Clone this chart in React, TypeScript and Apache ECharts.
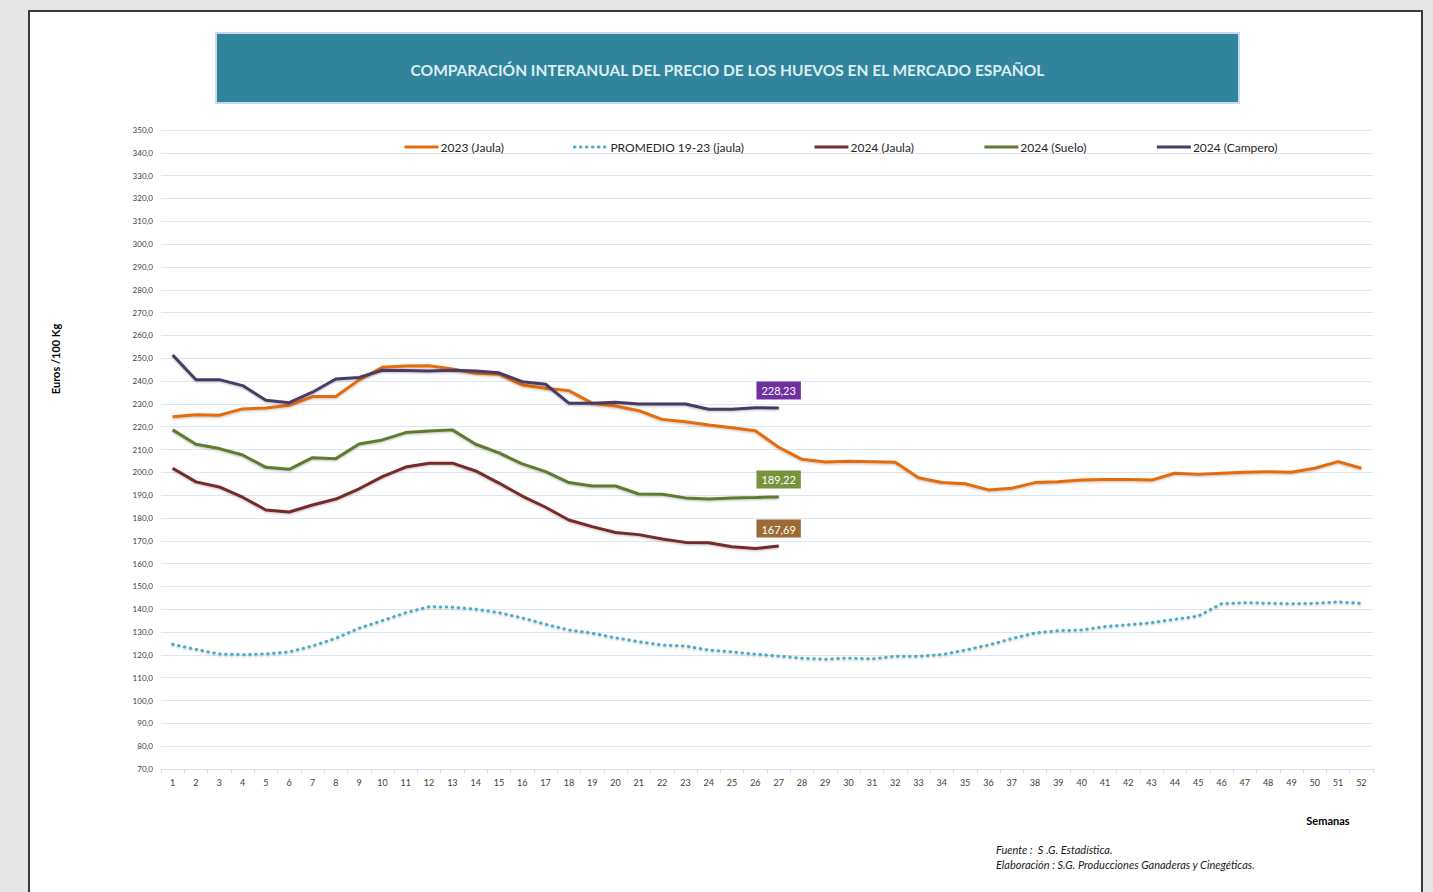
import React, { useEffect, useRef } from "react";
import * as echarts from "echarts";

const weeks = ["1","2","3","4","5","6","7","8","9","10","11","12","13","14","15","16","17","18","19","20","21","22","23","24","25","26","27","28","29","30","31","32","33","34","35","36","37","38","39","40","41","42","43","44","45","46","47","48","49","50","51","52"];

const jaula2023 = [224.4,225.2,225.0,227.8,228.2,229.4,233.2,233.2,240.5,246.0,246.6,246.7,245.3,243.4,243.0,238.3,236.8,235.8,230.3,229.1,227.0,223.2,222.2,220.7,219.5,218.2,211.0,205.7,204.5,204.8,204.6,204.4,197.6,195.5,195.0,192.3,193.0,195.5,195.9,196.6,196.9,196.9,196.6,199.6,199.1,199.6,200.0,200.3,200.0,201.8,204.7,201.8];

const promedio = [124.6,122.4,120.4,120.1,120.4,121.3,123.9,127.3,131.7,135.0,138.5,141.1,140.9,140.0,138.5,136.2,133.4,130.9,129.5,127.5,125.8,124.3,123.9,122.1,121.3,120.3,119.5,118.5,118.1,118.6,118.2,119.4,119.4,120.1,122.1,124.3,127.1,129.6,130.6,130.9,132.4,133.2,134.1,135.6,137.0,142.4,142.9,142.6,142.4,142.6,143.2,142.6];

const jaula2024 = [201.8,195.8,193.6,189.1,183.5,182.6,185.7,188.3,192.8,198.1,202.3,204.0,204.0,200.6,195.3,189.6,184.7,179.1,176.2,173.6,172.7,170.8,169.3,169.1,167.4,166.6,167.69];

const suelo2024 = [218.6,212.3,210.4,207.6,202.2,201.3,206.4,206.0,212.4,214.2,217.4,218.1,218.6,212.3,208.5,203.7,200.3,195.5,194.0,194.0,190.5,190.4,188.8,188.3,188.8,189.0,189.22];

const campero2024 = [251.4,240.6,240.6,238.0,231.6,230.5,235.1,240.9,241.6,244.7,244.6,244.4,244.7,244.4,243.6,239.7,238.6,230.3,230.3,230.7,229.9,229.9,229.9,227.6,227.6,228.3,228.23];

const seriesNames = ["2023 (Jaula)", "PROMEDIO 19-23 (jaula)", "2024 (Jaula)", "2024 (Suelo)", "2024 (Campero)"];

const FONT = "Lato, 'Noto Sans', sans-serif";

function withEndLabel(arr: number[], bg: string) {
  return arr.map((v, i) =>
    i === arr.length - 1
      ? {
          value: v,
          symbol: "circle",
          symbolSize: 1,
          label: {
            show: true,
            position: "top",
            distance: 8,
            formatter: (p: any) => Number(p.value).toFixed(2).replace(".", ","),
            backgroundColor: bg,
            color: "#ffffff",
            fontSize: 11,
            fontFamily: FONT,
            padding: [4, 5, 3, 5],
          },
        }
      : v
  );
}

const lineShadow = {
  shadowColor: "rgba(0,0,0,0.25)",
  shadowBlur: 2,
  shadowOffsetY: 1,
};

export default function App() {
  const ref = useRef<HTMLDivElement>(null);
  useEffect(() => {
    if (!ref.current) return;
    const chart = echarts.init(ref.current, undefined, { renderer: "svg" });
    chart.setOption({
      animation: false,
      backgroundColor: "#e6e6e6",
      textStyle: { fontFamily: FONT },
      graphic: [
        {
          type: "rect",
          z: -10,
          shape: { x: 29, y: 11, width: 1393, height: 900 },
          style: { fill: "#ffffff", stroke: "#3a3a3a", lineWidth: 2 },
        },
        {
          type: "rect",
          z: -5,
          shape: { x: 216, y: 33, width: 1023, height: 70 },
          style: { fill: "#31849B", stroke: "#c6d9f1", lineWidth: 2 },
        },
        {
          type: "text",
          x: 727.5,
          y: 70,
          style: {
            text: "COMPARACIÓN INTERANUAL DEL PRECIO DE LOS HUEVOS EN EL MERCADO ESPAÑOL",
            fill: "#dbeef4",
            font: "bold 15.5px " + FONT,
            align: "center",
            verticalAlign: "middle",
          },
        },
        {
          type: "text",
          x: 55,
          y: 359,
          rotation: Math.PI / 2,
          style: {
            text: "Euros /100 Kg",
            fill: "#000000",
            font: "bold 11px " + FONT,
            align: "center",
            verticalAlign: "middle",
          },
        },
        {
          type: "text",
          x: 1328,
          y: 820,
          style: {
            text: "Semanas",
            fill: "#000000",
            font: "bold 11px " + FONT,
            align: "center",
            verticalAlign: "middle",
          },
        },
        {
          type: "text",
          x: 996,
          y: 849,
          style: {
            text: "Fuente :  S .G. Estadística.",
            fill: "#1a1a1a",
            font: "italic 11px " + FONT,
            align: "left",
            verticalAlign: "middle",
          },
        },
        {
          type: "text",
          x: 996,
          y: 864,
          style: {
            text: "Elaboración : S.G. Producciones Ganaderas y Cinegéticas.",
            fill: "#1a1a1a",
            font: "italic 11px " + FONT,
            align: "left",
            verticalAlign: "middle",
          },
        },
      ],
      legend: {
        data: seriesNames,
        left: 403,
        top: 141,
        padding: 0,
        itemWidth: 34,
        itemHeight: 4,
        itemGap: 69,
        itemStyle: { opacity: 0 },
        lineStyle: { width: 3 },
        textStyle: { fontSize: 12, color: "#262626", fontFamily: FONT, padding: [0, 0, 0, -3] },
      },
      grid: { left: 161, right: 60, top: 130, bottom: 123 },
      xAxis: {
        type: "category",
        data: weeks,
        boundaryGap: true,
        axisLine: { lineStyle: { color: "#d9e1ee", width: 1 } },
        axisTick: { show: true, length: 4, lineStyle: { color: "#d9d9d9" } },
        axisLabel: { fontSize: 9, color: "#404040", margin: 9, interval: 0, fontFamily: FONT },
        splitLine: { show: false },
      },
      yAxis: {
        type: "value",
        min: 70,
        max: 350,
        interval: 10,
        axisLine: { show: false },
        axisTick: { show: false },
        axisLabel: {
          fontSize: 8,
          color: "#404040",
          margin: 8,
          fontFamily: FONT,
          formatter: (v: number) => v.toFixed(1).replace(".", ","),
        },
        splitLine: { lineStyle: { color: "#dce6f2", width: 1 } },
      },
      series: [
        {
          name: seriesNames[0],
          type: "line",
          data: jaula2023,
          symbol: "none",
          color: "#E46C0A",
          lineStyle: { width: 3, color: "#E46C0A", ...lineShadow },
        },
        {
          name: seriesNames[1],
          type: "line",
          data: promedio,
          symbol: "none",
          color: "#4BACC6",
          lineStyle: { width: 3, color: "#4BACC6", type: [0.5, 5.5], cap: "round", ...lineShadow },
        },
        {
          name: seriesNames[2],
          type: "line",
          data: withEndLabel(jaula2024, "#9C6A35"),
          symbol: "none",
          color: "#772C2A",
          lineStyle: { width: 3, color: "#772C2A", ...lineShadow },
        },
        {
          name: seriesNames[3],
          type: "line",
          data: withEndLabel(suelo2024, "#77933C"),
          symbol: "none",
          color: "#5F7B2F",
          lineStyle: { width: 3, color: "#5F7B2F", ...lineShadow },
        },
        {
          name: seriesNames[4],
          type: "line",
          data: withEndLabel(campero2024, "#7030A0"),
          symbol: "none",
          color: "#4A3A66",
          lineStyle: { width: 3, color: "#4A3A66", ...lineShadow },
        },
      ],
    });
    return () => chart.dispose();
  }, []);
  return (
    <div
      ref={ref}
      style={{ position: "absolute", left: 0, top: 0, width: 1433, height: 892 }}
    />
  );
}
